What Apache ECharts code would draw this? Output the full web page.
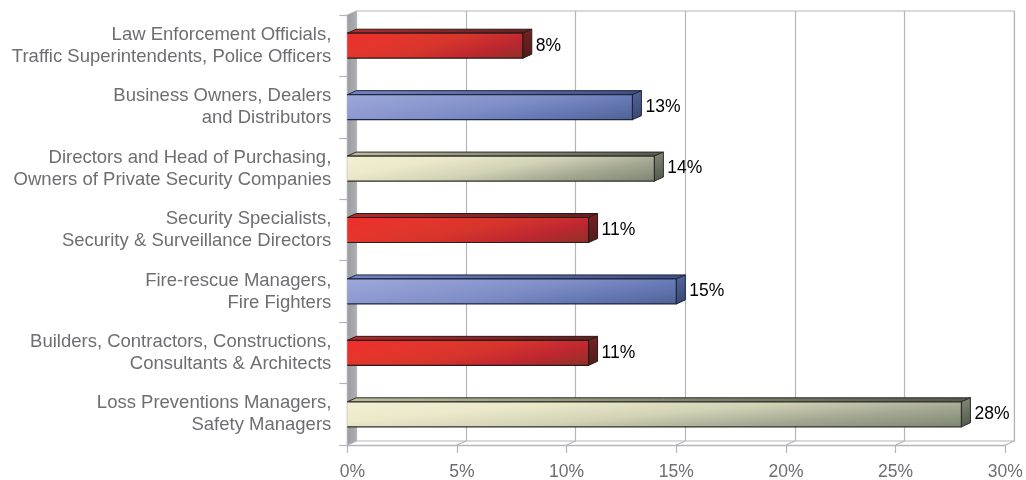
<!DOCTYPE html>
<html><head><meta charset="utf-8">
<style>html,body{margin:0;padding:0;background:#fff}#c{width:1026px;height:480px}</style>
<script src="https://cdn.jsdelivr.net/npm/echarts@6/dist/echarts.min.js"></script>
</head><body><div id="c"></div>
<script>
const categories = [
  'Law Enforcement Officials,\nTraffic Superintendents, Police Officers',
  'Business Owners, Dealers\nand Distributors',
  'Directors and Head of Purchasing,\nOwners of Private Security Companies',
  'Security Specialists,\nSecurity & Surveillance Directors',
  'Fire-rescue Managers,\nFire Fighters',
  'Builders, Contractors, Constructions,\nConsultants & Architects',
  'Loss Preventions Managers,\nSafety Managers'
];
const shares = [8, 13, 14, 11, 15, 11, 28];
const barTones = ['red', 'blue', 'cream', 'red', 'blue', 'red', 'cream'];
const xTicks = [0, 5, 10, 15, 20, 25, 30];

const DX = 9, DY = 4, LEFT = 347.3, TOP = 15, W = 658, H = 430, GRID = '#b4b5b8', TXT = '#6d6e71';
const lin = (stops, x2, y2) => ({type:'linear', x:0, y:0, x2, y2, colorStops: stops.map((c,i)=>({offset:i/(stops.length-1), color:c}))});
function slanted(stops, x, y, w, h) {
  const s = 0.45, k = (1 + s) * w * h / (h * h + s * s * w * w);
  return {type:'linear', global:true, x, y, x2:x + h * k, y2:y + s * w * k,
    colorStops: stops.map((c,i)=>({offset:i/(stops.length-1), color:c}))};
}
const tones = {
  red:   {front:['#ee2e2c','#e5352c','#d6352c','#bf2730','#8e3126'], top:['#b52a2a','#5e2220'], side:['#7a2422','#4d1b19'], edge:'#2a1a1a'},
  blue:  {front:['#9ca8da','#8f9cd2','#7f8ec6','#6578b4','#4f6293'], top:['#7484bf','#3f4f80'], side:['#54669c','#37466f'], edge:'#1f2540'},
  cream: {front:['#f3efd2','#ece9ca','#d2d2b6','#a3a792','#7d8673'], top:['#bdbca0','#55594b'], side:['#838b78','#50564a'], edge:'#2c2c28'}
};

function bar3d(params, api) {
  const i = api.value(1), v = api.value(0);
  const [x, yc] = api.coord([v, i]);
  const x0 = api.coord([0, i])[0];
  const h = 25, y0 = yc - h / 2, y1 = yc + h / 2;
  const t = tones[barTones[i]];
  return {type:'group', children:[
    {type:'polygon', shape:{points:[[x0,y0],[x0+DX,y0-DY],[x+DX,y0-DY],[x,y0]]},
     style:{fill:lin(t.top,1,0), stroke:t.edge, lineWidth:1}},
    {type:'polygon', shape:{points:[[x,y0],[x+DX,y0-DY],[x+DX,y1-DY],[x,y1]]},
     style:{fill:lin(t.side,1,1), stroke:t.edge, lineWidth:1}},
    {type:'rect', shape:{x:x0,y:y0,width:x-x0,height:h}, style:{fill:slanted(t.front,x0,y0,x-x0,h)}},
    {type:'polyline', shape:{points:[[x0,y0],[x,y0],[x,y1],[x0,y1]]}, style:{fill:null, stroke:t.edge, lineWidth:1.2}},
    {type:'text', x:x+DX+4, y:yc, style:{text:v+'%', fill:'#000', font:'17.5px "Liberation Sans"', verticalAlign:'middle', align:'left'}}
  ]};
}
function walls(params, api) {
  const c = params.coordSys, b = c.y + c.height, l = c.x, t = c.y;
  return {type:'group', children:[
    {type:'polygon', shape:{points:[[l,t],[l+DX,t-DY],[l+DX,b-DY],[l,b]]},
     style:{fill:{type:'linear',x:0,y:0,x2:1,y2:0,colorStops:[{offset:0,color:'#9a9b9f'},{offset:1,color:'#aeafb2'}]}, stroke:GRID, lineWidth:1}}
  ]};
}
function floorLine(params, api) {
  const c = params.coordSys, b = c.y + c.height, x = api.coord([api.value(0), 0])[0];
  return {type:'line', shape:{x1:x,y1:b,x2:x+DX,y2:b-DY}, style:{stroke:GRID, lineWidth:1.2}};
}

const chart = echarts.init(document.getElementById('c'), null, {renderer:'canvas'});
chart.setOption({
  animation:false,
  backgroundColor:'#fff',
  grid:[
    {left:LEFT, top:TOP, width:W, height:H, containLabel:false, outerBoundsMode:'none'},
    {left:LEFT+DX, top:TOP-DY, width:W, height:H, show:true, borderColor:GRID, borderWidth:1, backgroundColor:'#fff', z:0, outerBoundsMode:'none'}
  ],
  xAxis:[
    {type:'value', gridIndex:0, min:0, max:30, interval:5,
     axisLine:{show:true, lineStyle:{color:GRID, width:1.4}},
     axisTick:{show:true, length:8, lineStyle:{color:GRID, width:1.2}},
     splitLine:{show:false},
     axisLabel:{margin:18, color:TXT, fontFamily:'Liberation Sans', fontSize:17.5,
       formatter:v => v < 10 ? '{one|'+v+'%}' : v+'%',
       rich:{one:{padding:[0,0,0,10], color:TXT, fontFamily:'Liberation Sans', fontSize:17.5}}}},
    {type:'value', gridIndex:1, min:0, max:30, interval:5,
     axisLine:{show:false}, axisTick:{show:false}, axisLabel:{show:false},
     splitLine:{show:true, lineStyle:{color:GRID, width:1.2}}}
  ],
  yAxis:[
    {type:'category', gridIndex:0, inverse:true, data:categories,
     axisLine:{show:true, lineStyle:{color:GRID, width:1.2}},
     axisTick:{show:true, length:8, alignWithLabel:false, lineStyle:{color:GRID, width:1.2}},
     axisLabel:{margin:16, color:TXT, fontFamily:'Liberation Sans', fontSize:18.5, lineHeight:22, align:'right', interval:0}},
    {type:'value', gridIndex:1, min:0, max:1, axisLine:{show:false}, axisTick:{show:false}, axisLabel:{show:false}, splitLine:{show:false}}
  ],
  series:[
    {type:'custom', name:'walls', xAxisIndex:0, yAxisIndex:0, renderItem:walls, data:[[0,0]], z:1, clip:false, silent:true},
    {type:'custom', name:'floor', xAxisIndex:0, yAxisIndex:0, renderItem:floorLine, data:xTicks.map(v=>[v,0]), z:1, clip:false, silent:true},
    {type:'custom', name:'Share', xAxisIndex:0, yAxisIndex:0, renderItem:bar3d, encode:{x:0,y:1},
     data:shares.map((v,i)=>[v,i]), z:5, clip:false}
  ]
});
</script></body></html>
